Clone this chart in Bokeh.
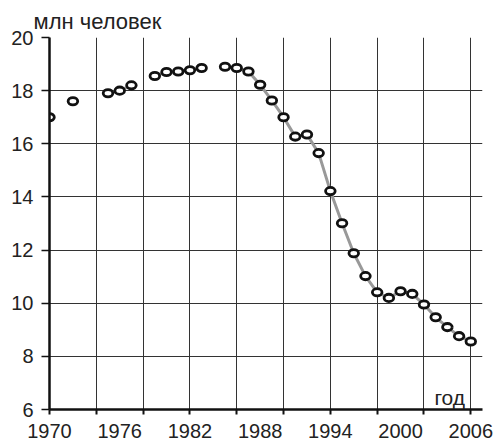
from bokeh.plotting import figure
from bokeh.models import FixedTicker, Label, ColumnDataSource, Grid, Title
from bokeh.embed import file_html
from bokeh.resources import INLINE

years = [1970, 1972, 1975, 1976, 1977, 1979, 1980, 1981, 1982, 1983,
         1985, 1986, 1987, 1988, 1989, 1990, 1991, 1992, 1993, 1994,
         1995, 1996, 1997, 1998, 1999, 2000, 2001, 2002, 2003, 2004,
         2005, 2006]
values = [17.0, 17.6, 17.9, 18.0, 18.2, 18.55, 18.7, 18.72, 18.77, 18.85,
          18.9, 18.85, 18.72, 18.22, 17.63, 17.0, 16.27, 16.35, 15.65, 14.22,
          13.01, 11.88, 11.02, 10.41, 10.2, 10.45, 10.35, 9.95, 9.47, 9.1,
          8.76, 8.56]
label_years = [1970, 1976, 1982, 1988, 1994, 2000, 2006]
grid_years = [1970, 1974, 1978, 1982, 1986, 1990, 1994, 1998, 2002, 2006]
y_ticks = [6, 8, 10, 12, 14, 16, 18, 20]
y_title = "млн человек"
x_title = "год"

FONT = "Liberation Sans"

p = figure(frame_width=433, frame_height=372, x_range=(1970, 2007),
           y_range=(6, 20), output_backend="svg", toolbar_location=None,
           min_border_left=49, min_border_right=13, min_border_top=37,
           min_border_bottom=30)
p.outline_line_color = None
p.background_fill_color = None
p.border_fill_color = None
p.grid.visible = False

p.add_layout(Grid(dimension=0, ticker=FixedTicker(ticks=grid_years),
                  grid_line_color="#333333", grid_line_width=1))
p.add_layout(Grid(dimension=1, ticker=FixedTicker(ticks=y_ticks),
                  grid_line_color="#333333", grid_line_width=1))

# line broken at missing years
lx, ly = [], []
for i, (yr, v) in enumerate(zip(years, values)):
    if i > 0 and yr - years[i - 1] > 1:
        lx.append(float("nan"))
        ly.append(float("nan"))
    lx.append(yr)
    ly.append(v)
p.line(lx, ly, line_color="#999999", line_width=3)

src = ColumnDataSource(data=dict(x=years, y=values))
p.ellipse(x="x", y="y", width=9.6, height=7.3, width_units="screen",
          height_units="screen", source=src, fill_color="white",
          line_color="#111111", line_width=2.8)

# axes
p.xaxis.ticker = FixedTicker(ticks=label_years, minor_ticks=grid_years)
p.xaxis.major_tick_line_color = None
p.xaxis.major_tick_out = 5
p.xaxis.major_tick_in = 0
p.xaxis.minor_tick_line_color = "#111111"
p.xaxis.minor_tick_line_width = 2
p.xaxis.minor_tick_out = 5
p.xaxis.minor_tick_in = 0
p.xaxis.major_label_standoff = 9
p.xaxis.axis_line_width = 2.5
p.xaxis.axis_line_color = "#111111"

p.yaxis.ticker = FixedTicker(ticks=y_ticks)
p.yaxis.minor_tick_line_color = None
p.yaxis.major_tick_out = 8
p.yaxis.major_tick_in = 0
p.yaxis.major_tick_line_width = 1.5
p.yaxis.major_tick_line_color = "#111111"
p.yaxis.major_label_standoff = 8
p.yaxis.axis_line_width = 2.5
p.yaxis.axis_line_color = "#111111"

for ax in (p.xaxis, p.yaxis):
    ax.major_label_text_font = FONT
    ax.major_label_text_font_size = "20px"
    ax.major_label_text_color = "#222222"

p.add_layout(Title(text=y_title, align="left", offset=-16, standoff=8,
                   text_font=FONT, text_font_size="22px",
                   text_font_style="normal", text_color="#222222"), "above")
p.add_layout(Label(x=2004.2, y=6.45, text=x_title,
                   text_font=FONT, text_font_size="21px",
                   text_color="#222222", text_baseline="alphabetic",
                   text_align="center"))

open("out.html", "w").write(file_html(p, INLINE))
